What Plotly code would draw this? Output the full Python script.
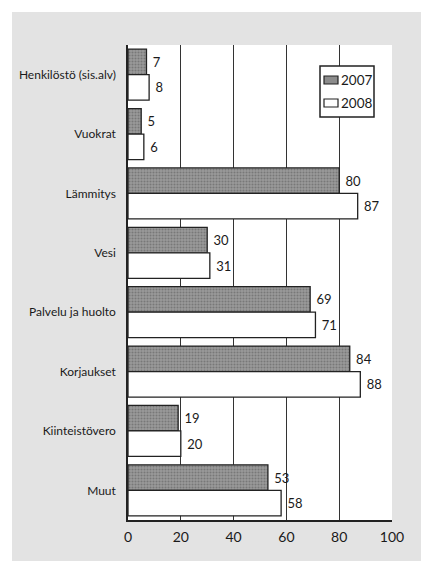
import plotly.graph_objects as go

categories = ["Henkilöstö (sis.alv)", "Vuokrat", "Lämmitys", "Vesi",
              "Palvelu ja huolto", "Korjaukset", "Kiinteistövero", "Muut"]
values_2007 = [7, 5, 80, 30, 69, 84, 19, 53]
values_2008 = [8, 6, 87, 31, 71, 88, 20, 58]
series_names = ["2007", "2008"]
x_ticks = [0, 20, 40, 60, 80, 100]

# page body has an 8px margin, so the figure is a bit smaller than the window
W, H = 421, 553
ML, MR, MT, MB = 120, 37, 37, 41
BG = "#e3e3e3"
FONT = "Lato, sans-serif"
DARK = "#8c8c8c"

pw = W - ML - MR
ph = H - MT - MB


def px_x(x):
    return (x - ML) / pw


def px_y(y):
    return (H - MB - y) / ph


fig = go.Figure()
fig.add_trace(go.Bar(
    name=series_names[0], y=categories, x=values_2007, orientation="h",
    text=values_2007, texttemplate=" %{x}", textposition="outside",
    marker=dict(color=DARK, line=dict(color="#222", width=1.3),
                pattern=dict(shape=".", fgcolor="#555555", bgcolor="#9a9a9a",
                             size=3, solidity=0.4)),
    cliponaxis=False,
))
fig.add_trace(go.Bar(
    name=series_names[1], y=categories, x=values_2008, orientation="h",
    text=values_2008, texttemplate=" %{x}", textposition="outside",
    marker=dict(color="white", line=dict(color="#222", width=1.3)),
    cliponaxis=False,
))

# thin white strips at the top and left edge of the page
fig.add_shape(type="rect", xref="paper", yref="paper", layer="below",
              x0=px_x(0), x1=px_x(W), y0=px_y(4), y1=px_y(0),
              fillcolor="white", line_width=0)
fig.add_shape(type="rect", xref="paper", yref="paper", layer="below",
              x0=px_x(0), x1=px_x(4), y0=px_y(H), y1=px_y(0),
              fillcolor="white", line_width=0)

# compact legend box drawn by hand
fig.add_shape(type="rect", xref="paper", yref="paper",
              x0=px_x(312), x1=px_x(366), y0=px_y(109), y1=px_y(58),
              fillcolor="white", line=dict(color="#222", width=1.5))
for i, (name, color) in enumerate(zip(series_names, [DARK, "white"])):
    cy = 72 + 23 * i
    fig.add_shape(type="rect", xref="paper", yref="paper",
                  x0=px_x(316), x1=px_x(330), y0=px_y(cy + 4), y1=px_y(cy - 4),
                  fillcolor=color, line=dict(color="#222", width=1.2))
    fig.add_annotation(xref="paper", yref="paper", x=px_x(331), y=px_y(cy),
                       text=name, showarrow=False, xanchor="left",
                       yanchor="middle", font=dict(size=13.5))

fig.update_layout(
    width=W, height=H,
    margin=dict(l=ML, r=MR, t=MT, b=MB, autoexpand=False),
    paper_bgcolor=BG, plot_bgcolor="white",
    barmode="group", bargap=0.14, bargroupgap=0,
    font=dict(family=FONT, size=13, color="#1a1a1a"),
    showlegend=False,
    xaxis=dict(range=[0, 100], tickvals=x_ticks, showgrid=True,
               gridcolor="#333", gridwidth=1, zeroline=False,
               showline=True, linecolor="#222", linewidth=1.5,
               ticks="", ticklabelstandoff=3, tickfont=dict(size=14),
               automargin=False),
    yaxis=dict(autorange="reversed", showline=True, linecolor="#222",
               linewidth=1.5, showgrid=False, ticks="",
               ticklabelstandoff=8, tickfont=dict(size=12),
               automargin=False),
)

fig.write_html("out.html")
